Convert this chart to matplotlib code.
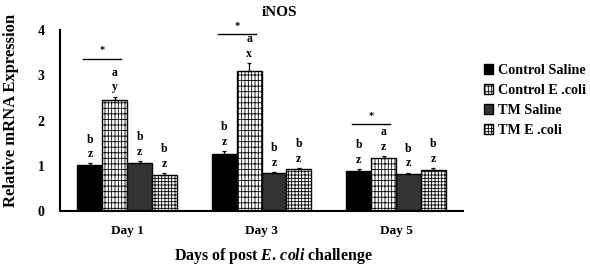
import matplotlib
matplotlib.use("Agg")
import matplotlib.pyplot as plt
import numpy as np

plt.rcParams['font.family'] = ['Liberation Serif', 'DejaVu Serif']
plt.rcParams['font.weight'] = 'bold'
plt.rcParams['mathtext.fontset'] = 'custom'
plt.rcParams['mathtext.rm'] = 'Liberation Serif:bold'
plt.rcParams['mathtext.it'] = 'Liberation Serif:italic:bold'
plt.rcParams['hatch.linewidth'] = 0.6

days = ["Day 1", "Day 3", "Day 5"]
groups = ["Control Saline", "Control E .coli", "TM Saline", "TM E .coli"]
values = {
    "Control Saline": [1.01, 1.27, 0.89],
    "Control E .coli": [2.45, 3.09, 1.17],
    "TM Saline": [1.07, 0.84, 0.82],
    "TM E .coli": [0.80, 0.92, 0.90],
}
errors = {
    "Control Saline": [0.04, 0.05, 0.04],
    "Control E .coli": [0.08, 0.17, 0.05],
    "TM Saline": [0.04, 0.03, 0.03],
    "TM E .coli": [0.03, 0.03, 0.04],
}
upper_letters = {
    "Control Saline": ["b", "b", "b"],
    "Control E .coli": ["a", "a", "a"],
    "TM Saline": ["b", "b", "b"],
    "TM E .coli": ["b", "b", "b"],
}
lower_letters = {
    "Control Saline": ["z", "z", "z"],
    "Control E .coli": ["y", "x", "z"],
    "TM Saline": ["z", "z", "z"],
    "TM E .coli": ["z", "z", "z"],
}
sig_heights = [3.36, 3.91, 1.92]

facecolors = ["black", "white", "#333333", "white"]
hatches = [None, "|||||---", None, "+++++"]

fig = plt.figure(figsize=(5.9, 2.7), dpi=100)
ax = fig.add_axes([0.1017, 0.2185, 0.6833, 0.6704])

x = np.arange(len(days))
w = 0.185
for i, g in enumerate(groups):
    pos = x + (i - 1.5) * w
    ax.bar(pos, values[g], width=w, color=facecolors[i], edgecolor="black",
           linewidth=1.0, hatch=hatches[i], label=g, zorder=2)
    ax.errorbar(pos, values[g], yerr=[np.zeros(3), errors[g]], fmt="none",
                ecolor="black", elinewidth=0.9, capsize=1.5, capthick=0.9, zorder=3)
    for j in range(len(days)):
        top = values[g][j] + errors[g][j]
        ax.text(pos[j], top + 0.2, lower_letters[g][j], ha="center", va="center",
                fontsize=8.5, fontweight="bold")
        ax.text(pos[j], top + 0.53, upper_letters[g][j], ha="center", va="center",
                fontsize=8.5, fontweight="bold")

for j in range(len(days)):
    x0 = x[j] - 1.5 * w - 0.05
    x1 = x[j] - 0.5 * w + 0.05
    ax.plot([x0, x1], [sig_heights[j]] * 2, color="black", lw=1.0, clip_on=False)
    ax.text((x0 + x1) / 2, sig_heights[j] + 0.2, "*", ha="center", va="center",
            fontsize=7.5, fontweight="bold", clip_on=False)

ax.set_xlim(-0.5, 2.5)
ax.set_ylim(0, 4)
ax.set_yticks([0, 1, 2, 3, 4])
ax.set_xticks(x)
ax.set_xticklabels(days, fontsize=9.5, fontweight="bold")
ax.tick_params(axis="y", length=0, pad=11, labelsize=10)
ax.tick_params(axis="x", length=0, pad=10)
for lab in ax.get_yticklabels():
    lab.set_fontweight("bold")
ax.spines["top"].set_visible(False)
ax.spines["right"].set_visible(False)
ax.spines["left"].set_linewidth(1.5)
ax.spines["bottom"].set_linewidth(1.5)

fig.text(0.018, 0.59, "Relative mRNA Expression", rotation=90, ha="center",
         va="center", fontsize=12, fontweight="bold")
fig.text(0.464, 0.052, r"Days of post $\mathit{E.\,coli}$ challenge", ha="center",
         va="center", fontsize=11.4, fontweight="bold")
fig.text(0.473, 0.955, "iNOS", ha="center", va="center", fontsize=11, fontweight="bold")

leg = fig.legend(loc="upper left", bbox_to_anchor=(0.81, 0.785), frameon=False,
                 fontsize=10.2, handlelength=0.7, handleheight=0.7, handletextpad=0.3,
                 labelspacing=0.5, borderaxespad=0)
for t in leg.get_texts():
    t.set_fontweight("bold")

fig.savefig("out.png", dpi=100)
